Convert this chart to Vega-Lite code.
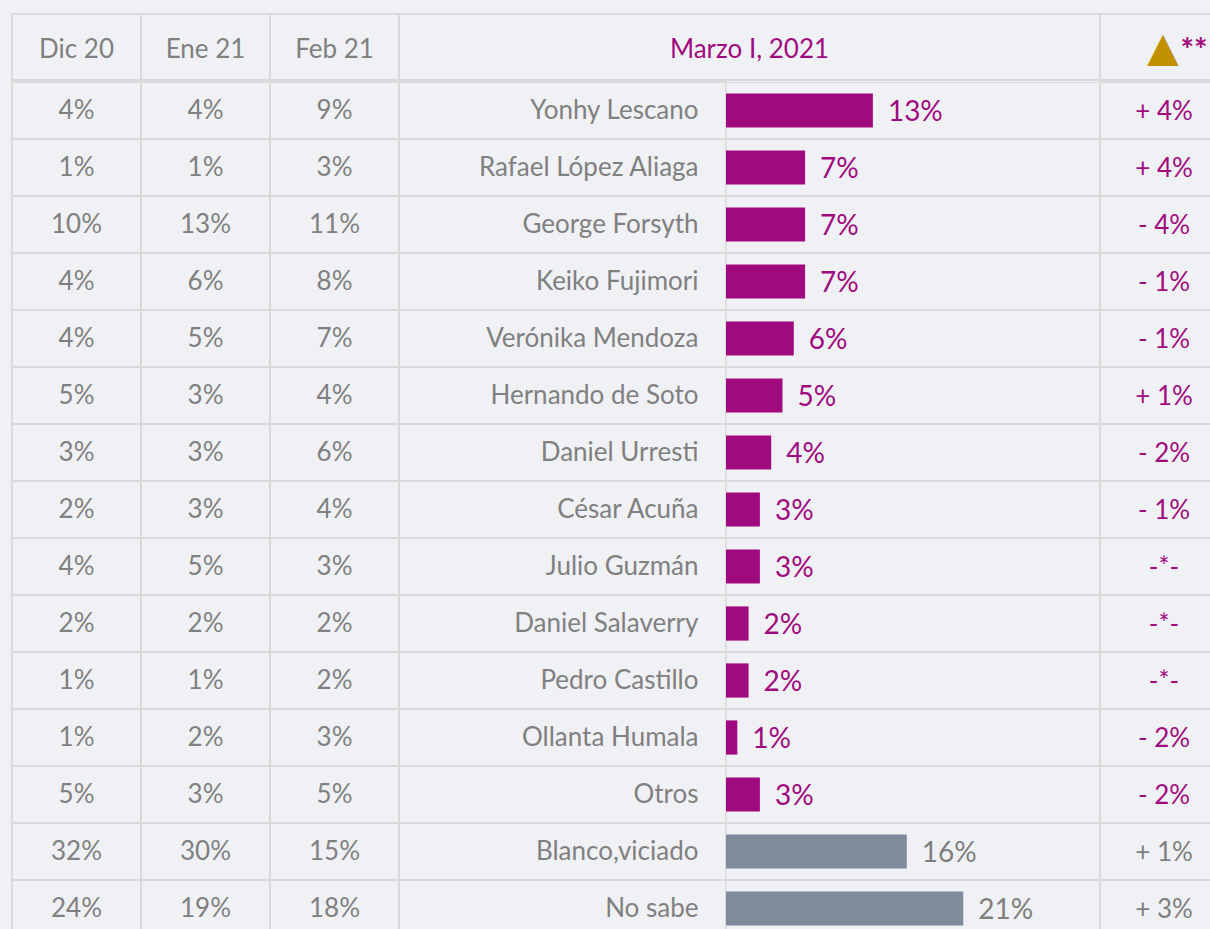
{
  "$schema": "https://vega.github.io/schema/vega-lite/v6.json",
  "autosize": {"type": "pad"},
  "padding": {"left": 11, "top": 13, "right": 0, "bottom": 0},
  "background": "#f0f1f5",
  "spacing": 0,
  "datasets": {
    "rows": [
      {"name": "Yonhy Lescano", "dic": 0.04, "ene": 0.04, "feb": 0.09, "mar": 0.13, "delta": "+ 4%", "grp": "c"},
      {"name": "Rafael López Aliaga", "dic": 0.01, "ene": 0.01, "feb": 0.03, "mar": 0.07, "delta": "+ 4%", "grp": "c"},
      {"name": "George Forsyth", "dic": 0.10, "ene": 0.13, "feb": 0.11, "mar": 0.07, "delta": "- 4%", "grp": "c"},
      {"name": "Keiko Fujimori", "dic": 0.04, "ene": 0.06, "feb": 0.08, "mar": 0.07, "delta": "- 1%", "grp": "c"},
      {"name": "Verónika Mendoza", "dic": 0.04, "ene": 0.05, "feb": 0.07, "mar": 0.06, "delta": "- 1%", "grp": "c"},
      {"name": "Hernando de Soto", "dic": 0.05, "ene": 0.03, "feb": 0.04, "mar": 0.05, "delta": "+ 1%", "grp": "c"},
      {"name": "Daniel Urresti", "dic": 0.03, "ene": 0.03, "feb": 0.06, "mar": 0.04, "delta": "- 2%", "grp": "c"},
      {"name": "César Acuña", "dic": 0.02, "ene": 0.03, "feb": 0.04, "mar": 0.03, "delta": "- 1%", "grp": "c"},
      {"name": "Julio Guzmán", "dic": 0.04, "ene": 0.05, "feb": 0.03, "mar": 0.03, "delta": "-*-", "grp": "c"},
      {"name": "Daniel Salaverry", "dic": 0.02, "ene": 0.02, "feb": 0.02, "mar": 0.02, "delta": "-*-", "grp": "c"},
      {"name": "Pedro Castillo", "dic": 0.01, "ene": 0.01, "feb": 0.02, "mar": 0.02, "delta": "-*-", "grp": "c"},
      {"name": "Ollanta Humala", "dic": 0.01, "ene": 0.02, "feb": 0.03, "mar": 0.01, "delta": "- 2%", "grp": "c"},
      {"name": "Otros", "dic": 0.05, "ene": 0.03, "feb": 0.05, "mar": 0.03, "delta": "- 2%", "grp": "c"},
      {"name": "Blanco,viciado", "dic": 0.32, "ene": 0.30, "feb": 0.15, "mar": 0.16, "delta": "+ 1%", "grp": "o"},
      {"name": "No sabe", "dic": 0.24, "ene": 0.19, "feb": 0.18, "mar": 0.21, "delta": "+ 3%", "grp": "o"}
    ]
  },
  "config": {
    "view": {"stroke": "#dadada", "strokeWidth": 2},
    "font": "Lato",
    "text": {"font": "Lato", "fontSize": 26, "color": "#808080", "baseline": "middle"},
    "rule": {"color": "#dadada", "strokeWidth": 2},
    "concat": {"spacing": 0}
  },
  "vconcat": [
    {
      "spacing": 0,
      "bounds": "flush",
      "hconcat": [
        {"width": 129, "height": 66, "view": {"stroke": "#dadada", "strokeWidth": 2}, "data": {"values": [{"t": "Dic 20"}]}, "mark": {"type": "text", "dy": 3}, "encoding": {"text": {"field": "t"}}},
        {"width": 129, "height": 66, "view": {"stroke": "#dadada", "strokeWidth": 2}, "data": {"values": [{"t": "Ene 21"}]}, "mark": {"type": "text", "dy": 3}, "encoding": {"text": {"field": "t"}}},
        {"width": 129, "height": 66, "view": {"stroke": "#dadada", "strokeWidth": 2}, "data": {"values": [{"t": "Feb 21"}]}, "mark": {"type": "text", "dy": 3}, "encoding": {"text": {"field": "t"}}},
        {"width": 701, "height": 66, "view": {"stroke": "#dadada", "strokeWidth": 2}, "data": {"values": [{"t": "Marzo I, 2021"}]}, "mark": {"type": "text", "dy": 3, "color": "#a10a7f"}, "encoding": {"text": {"field": "t"}}},
        {"width": 111, "height": 66, "view": {"stroke": "#dadada", "strokeWidth": 2}, "data": {"values": [{"a": "▲", "b": "**"}]},
          "layer": [
            {"mark": {"type": "text", "font": "DejaVu Sans", "fontSize": 41, "color": "#c09000", "dx": 7.5, "dy": 2}, "encoding": {"text": {"field": "a"}}},
            {"mark": {"type": "text", "fontSize": 32, "fontWeight": "bold", "color": "#a10a7f", "align": "left", "dx": 25, "dy": 5}, "encoding": {"text": {"field": "b"}}}
          ]
        }
      ]
    },
    {
      "spacing": 0,
      "bounds": "flush",
      "hconcat": [
        {"width": 129, "height": 848, "data": {"name": "rows"},
          "layer": [
            {"mark": {"type": "rule", "clip": true}, "encoding": {"y": {"field": "name", "type": "nominal", "sort": null, "bandPosition": 0, "scale": {"range": [0, 855], "paddingInner": 0, "paddingOuter": 0}, "axis": null}}},
            {"mark": {"type": "text", "clip": true}, "encoding": {
              "y": {"field": "name", "type": "nominal", "sort": null, "scale": {"range": [0, 855], "paddingInner": 0, "paddingOuter": 0}, "axis": null},
              "text": {"field": "dic", "type": "quantitative", "format": ".0%"}}}
          ]},
        {"width": 129, "height": 848, "data": {"name": "rows"},
          "layer": [
            {"mark": {"type": "rule", "clip": true}, "encoding": {"y": {"field": "name", "type": "nominal", "sort": null, "bandPosition": 0, "scale": {"range": [0, 855], "paddingInner": 0, "paddingOuter": 0}, "axis": null}}},
            {"mark": {"type": "text", "clip": true}, "encoding": {
              "y": {"field": "name", "type": "nominal", "sort": null, "scale": {"range": [0, 855], "paddingInner": 0, "paddingOuter": 0}, "axis": null},
              "text": {"field": "ene", "type": "quantitative", "format": ".0%"}}}
          ]},
        {"width": 129, "height": 848, "data": {"name": "rows"},
          "layer": [
            {"mark": {"type": "rule", "clip": true}, "encoding": {"y": {"field": "name", "type": "nominal", "sort": null, "bandPosition": 0, "scale": {"range": [0, 855], "paddingInner": 0, "paddingOuter": 0}, "axis": null}}},
            {"mark": {"type": "text", "clip": true}, "encoding": {
              "y": {"field": "name", "type": "nominal", "sort": null, "scale": {"range": [0, 855], "paddingInner": 0, "paddingOuter": 0}, "axis": null},
              "text": {"field": "feb", "type": "quantitative", "format": ".0%"}}}
          ]},
        {"width": 327, "height": 848, "data": {"name": "rows"},
          "layer": [
            {"mark": {"type": "rule", "clip": true}, "encoding": {"y": {"field": "name", "type": "nominal", "sort": null, "bandPosition": 0, "scale": {"range": [0, 855], "paddingInner": 0, "paddingOuter": 0}, "axis": null}}},
            {"mark": {"type": "text", "align": "right", "dx": 136, "clip": true}, "encoding": {
              "y": {"field": "name", "type": "nominal", "sort": null, "scale": {"range": [0, 855], "paddingInner": 0, "paddingOuter": 0}, "axis": null},
              "text": {"field": "name", "type": "nominal"}}}
          ]},
        {"width": 374, "height": 848, "data": {"name": "rows"},
          "view": {"stroke": "#e4e4e6", "strokeWidth": 1},
          "layer": [
            {"mark": {"type": "rule", "clip": true}, "encoding": {"y": {"field": "name", "type": "nominal", "sort": null, "bandPosition": 0, "scale": {"range": [0, 855], "paddingInner": 0, "paddingOuter": 0}, "axis": null}}},
            {"mark": {"type": "bar", "height": {"band": 0.6}, "clip": true},
              "encoding": {
                "y": {"field": "name", "type": "nominal", "sort": null, "scale": {"range": [0, 855], "paddingInner": 0, "paddingOuter": 0}, "axis": null},
                "x": {"field": "mar", "type": "quantitative", "scale": {"domain": [0, 0.331], "nice": false, "zero": true}, "axis": null},
                "color": {"field": "grp", "type": "nominal", "scale": {"domain": ["c", "o"], "range": ["#a10a7f", "#7f8a9c"]}, "legend": null}}},
            {"mark": {"type": "text", "align": "left", "dx": 15, "dy": 2, "fontSize": 28, "clip": true},
              "encoding": {
                "y": {"field": "name", "type": "nominal", "sort": null, "scale": {"range": [0, 855], "paddingInner": 0, "paddingOuter": 0}, "axis": null},
                "x": {"field": "mar", "type": "quantitative", "scale": {"domain": [0, 0.331], "nice": false, "zero": true}, "axis": null},
                "text": {"field": "mar", "type": "quantitative", "format": ".0%"},
                "color": {"field": "grp", "type": "nominal", "scale": {"domain": ["c", "o"], "range": ["#a10a7f", "#7f7f7f"]}, "legend": null}
              }}
          ],
          "resolve": {"scale": {"color": "independent"}}
        },
        {"width": 111, "height": 848, "data": {"name": "rows"},
          "layer": [
            {"mark": {"type": "rule", "clip": true}, "encoding": {"y": {"field": "name", "type": "nominal", "sort": null, "bandPosition": 0, "scale": {"range": [0, 855], "paddingInner": 0, "paddingOuter": 0}, "axis": null}}},
            {"mark": {"type": "text", "dx": 8.5, "dy": 1, "clip": true}, "encoding": {
              "y": {"field": "name", "type": "nominal", "sort": null, "scale": {"range": [0, 855], "paddingInner": 0, "paddingOuter": 0}, "axis": null},
              "text": {"field": "delta", "type": "nominal"},
              "color": {"field": "grp", "type": "nominal", "scale": {"domain": ["c", "o"], "range": ["#a10a7f", "#7f7f7f"]}, "legend": null}}}
          ]}
      ]
    }
  ]
}
